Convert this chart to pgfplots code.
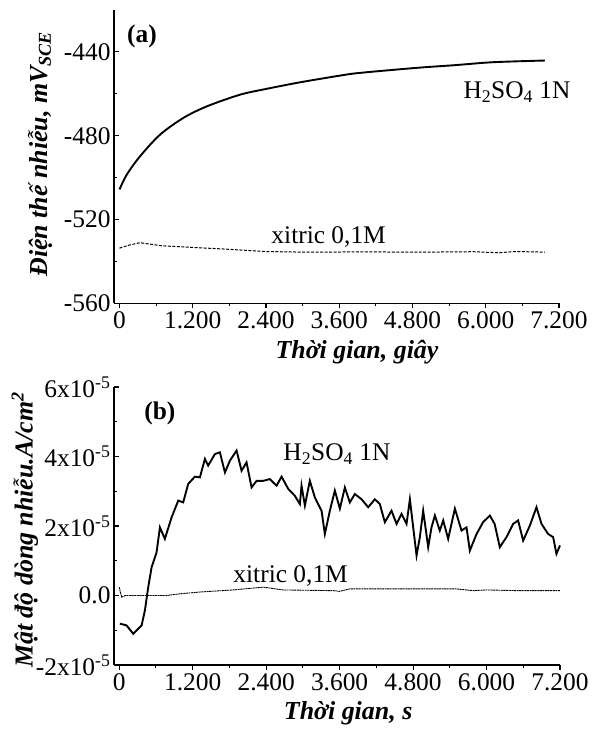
\documentclass[border=0pt]{standalone}
\usepackage{fontspec}
\setmainfont{Liberation Serif}
\usepackage{pgfplots}
\pgfplotsset{compat=1.18}
\newcommand\tk{\fontsize{25.5}{29}\selectfont}
\newcommand\lb{\fontsize{26}{30}\selectfont}

\pgfplotsset{
  panel/.style={
    scale only axis,
    clip=false,
    axis lines=left,
    axis line style={-, line width=1.3pt},
    xtick align=outside,
    ytick align=inside,
    tick style={black, line width=1.1pt},
    major tick length=5bp,
    minor tick length=3bp,
    minor x tick num=1,
    minor y tick num=1,
    xtick={0,1200,2400,3600,4800,6000,7200},
    xticklabels={0,1.200,2.400,3.600,4.800,6.000,7.200},
    tick label style={font=\tk},
    label style={font=\lb\bfseries\itshape},
    xmax=7200,
  }
}

\begin{document}
\begin{tikzpicture}
\useasboundingbox (0,0) rectangle (600bp,729bp);

% (a) potential noise
\begin{axis}[panel,
  at={(114bp,425.5bp)}, anchor=south west,
  width=445bp, height=293.5bp,
  xmin=-90, ymin=-560, ymax=-420,
  ytick={-560,-520,-480,-440},
  yticklabels={-560,-520,-480,-440},
  xlabel={Thời gian, giây},
  ylabel={Điện thế nhiễu, mV\textsubscript{SCE}},
  xlabel style={at={(axis description cs:0.546,-0.165)}, anchor=center},
  ylabel style={at={(axis description cs:-0.166,0.509)}, anchor=center},
]
\addplot[black, line width=1.9pt, smooth] coordinates {
  (0,-505.6) (120,-498.5) (336,-489.8) (663,-479.5) (1045,-471.5)
  (1428,-466) (1974,-460.4) (2411,-457.6) (2957,-454.5) (3612,-451.3)
  (3939,-450) (4868,-447.6) (5500,-446.3) (6123,-444.9) (6970,-444.1)
};
\addplot[black, line width=1pt, dash pattern=on 3pt off 1.5pt] coordinates {
  (0,-533.6) (150,-532.2) (336,-531) (700,-532.5) (1100,-533.1)
  (1700,-534) (2400,-535.2) (3000,-535.5) (4000,-535.4) (5000,-535.5)
  (5800,-535.3) (6200,-535.8) (6500,-535.2) (6970,-535.5)
};
\node[font=\tk\bfseries, anchor=center] at (axis description cs:0.063,0.911) {(a)};
\node[font=\tk, anchor=base west] at (axis description cs:0.7775,0.699) {H\textsubscript{2}SO\textsubscript{4} 1N};
\node[font=\tk, anchor=base west] at (axis description cs:0.346,0.205) {xitric 0,1M};
\end{axis}

% (b) current noise, values in 1e-5 A/cm2
\begin{axis}[panel,
  at={(114bp,64bp)}, anchor=south west,
  width=446bp, height=278bp,
  xmin=-85, ymin=-2, ymax=6,
  ytick={-2,0,2,4,6},
  yticklabels={-2x10\textsuperscript{-5},0.0,2x10\textsuperscript{-5},4x10\textsuperscript{-5},6x10\textsuperscript{-5}},
  xlabel={Thời gian, s},
  ylabel={Mật độ dòng nhiễu.A/cm\textsuperscript{2}},
  xlabel style={at={(axis description cs:0.525,-0.173)}, anchor=center},
  ylabel style={at={(axis description cs:-0.2,0.486)}, anchor=center},
]
\addplot[black, line width=1.9pt] coordinates {
  (11,-0.81) (120,-0.86) (229,-1.10) (366,-0.86) (420,-0.43) (474,0.24)
  (529,0.81) (610,1.24) (665,1.96) (746,1.63) (856,2.25) (964,2.73)
  (1045,2.68) (1127,3.21) (1236,3.42) (1318,3.40) (1400,3.93) (1453,3.74)
  (1563,4.07) (1645,4.12) (1727,3.54) (1808,3.88) (1917,4.17) (1999,3.59)
  (2080,3.83) (2162,3.11) (2244,3.30) (2353,3.30) (2461,3.35) (2570,3.16)
  (2652,3.42) (2760,3.07) (2869,2.87) (2951,2.63) (2978,3.16) (3033,2.59)
  (3114,3.30) (3196,2.82) (3305,2.44) (3359,1.77) (3441,2.44) (3522,3.02)
  (3604,2.50) (3686,3.11) (3767,2.68) (3849,2.92) (3958,2.77) (4067,2.54)
  (4176,2.77) (4257,2.63) (4339,2.11) (4448,2.44) (4530,2.06) (4612,2.35)
  (4693,2.06) (4748,2.77) (4802,1.96) (4857,1.15) (4911,1.68) (4965,2.44)
  (5047,1.39) (5101,1.96) (5156,2.30) (5237,1.87) (5292,2.16) (5373,1.63)
  (5483,2.50) (5591,1.87) (5673,1.96) (5727,1.29) (5837,1.77) (5944,2.11)
  (6054,2.30) (6132,2.06) (6217,1.39) (6326,1.68) (6435,2.06) (6516,2.16)
  (6598,1.58) (6707,2.01) (6816,2.54) (6898,2.06) (7006,1.77) (7088,1.68)
  (7142,1.20) (7200,1.44)
};
\addplot[black, line width=0.9pt, dash pattern=on 2pt off 0.6pt] coordinates {
  (0,0.24) (40,-0.05) (100,0.0) (600,0.0) (774,0.0) (1000,0.05)
  (1318,0.10) (1862,0.16) (2353,0.24) (2679,0.16) (3495,0.14) (3600,0.12)
  (3767,0.19) (4500,0.19) (5500,0.19) (5780,0.14) (6000,0.16) (6500,0.14)
  (7200,0.14)
};
\node[font=\tk\bfseries, anchor=center] at (axis description cs:0.103,0.906) {(b)};
\node[font=\tk, anchor=base west] at (axis description cs:0.372,0.735) {H\textsubscript{2}SO\textsubscript{4} 1N};
\node[font=\tk, anchor=base west] at (axis description cs:0.26,0.2975) {xitric 0,1M};
\end{axis}
\end{tikzpicture}
\end{document}
